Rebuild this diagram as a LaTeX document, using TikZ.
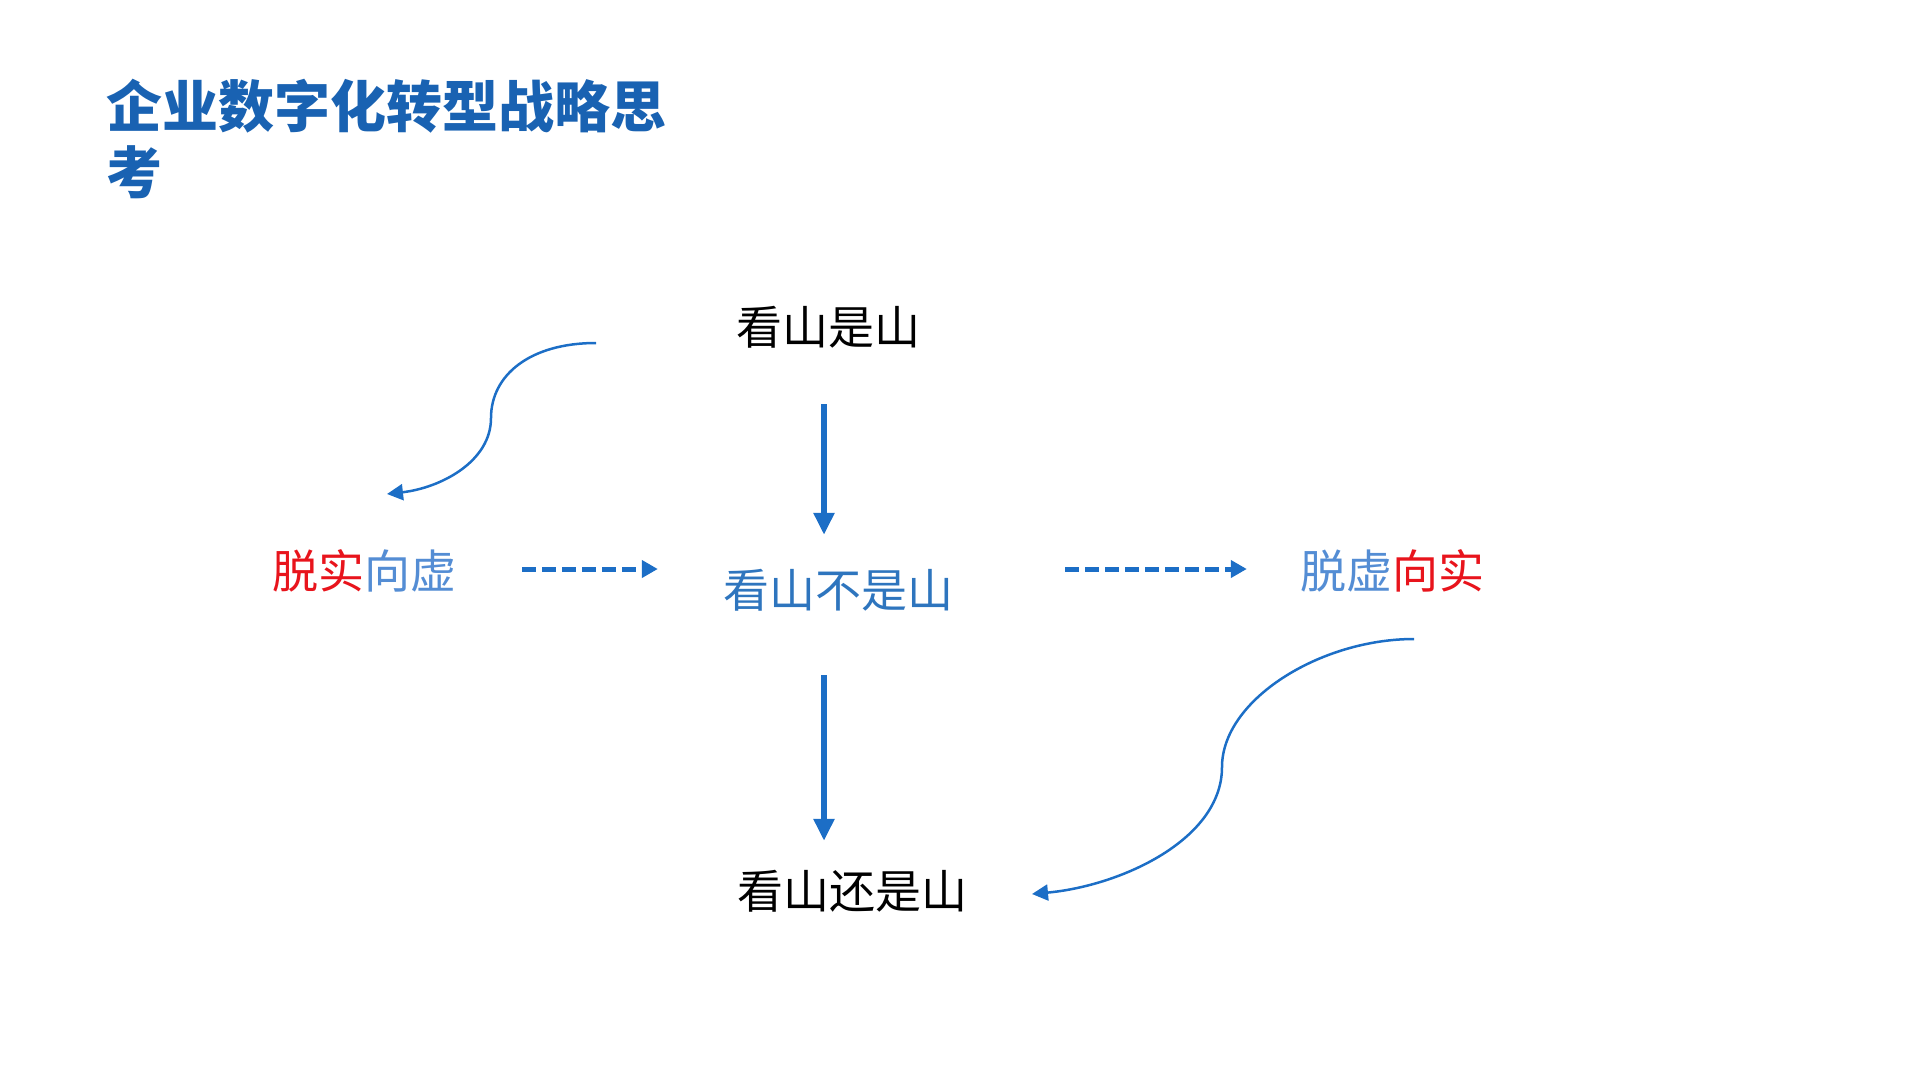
\documentclass[tikz,border=0pt]{standalone}
\usepackage{fontspec}
\newfontfamily\cjk{Noto Sans CJK SC}
\usetikzlibrary{arrows.meta}
\definecolor{titleblue}{RGB}{25,98,178}
\definecolor{arrowblue}{RGB}{28,110,198}
\definecolor{midblue}{RGB}{46,117,190}
\definecolor{lightblue}{RGB}{84,141,212}
\definecolor{cred}{RGB}{232,20,28}
\begin{document}
\begin{tikzpicture}[x=1pt, y=-1pt,
  title/.style = {font=\cjk\bfseries\fontsize{56}{66}\selectfont,
    text=titleblue, align=left, anchor=north west, inner sep=0pt},
  lbl/.style = {font=\cjk\fontsize{46}{50}\selectfont,
    inner sep=0pt, text height=37pt, text depth=9pt},
  solid arrow/.style = {arrowblue, line width=5.5pt,
    -{Triangle[length=22pt, width=20pt]}},
  dash arrow/.style = {arrowblue, line width=5pt, dash pattern=on 14pt off 6pt,
    -{Triangle[length=16pt, width=17pt]}},
  curve arrow/.style = {arrowblue, line width=2.5pt,
    -{Triangle[length=16pt, width=16pt]}}]
  \useasboundingbox (0,0) rectangle (1920,1080);
  \node[title] (head) at (106,79) {企业数字化转型战略思\\考};
  \node[lbl] (top) at (828,330) {看山是山};
  \node[lbl, text=midblue] (mid) at (838,593) {看山不是山};
  \node[lbl] (bot) at (852,894) {看山还是山};
  \node[lbl] (left) at (364,574)
    {\textcolor{cred}{脱实}\textcolor{lightblue}{向虚}};
  \node[lbl] (right) at (1392,574)
    {\textcolor{lightblue}{脱虚}\textcolor{cred}{向实}};
  \coordinate (vx) at (824,0);
  \coordinate (hy) at (0,569);
  \coordinate (s1) at (596,343);
  \coordinate (e1) at (387,494);
  \coordinate (s2) at (1414,639);
  \coordinate (e2) at (1032,894);
  % down the middle
  \draw[solid arrow, shorten <=51pt, shorten >=35pt]
    (top.south -| vx) -- (mid.north -| vx);
  \draw[solid arrow, shorten <=59pt, shorten >=30pt]
    (mid.south -| vx) -- (bot.north -| vx);
  % sideways
  \draw[dash arrow, shorten <=66pt, shorten >=65pt]
    (left.east |- hy) -- (mid.west |- hy);
  \draw[dash arrow, shorten <=112pt, shorten >=53pt]
    (mid.east |- hy) -- (right.west |- hy);
  % curves
  \draw[curve arrow] (s1) .. controls (530,343) and (491,375) .. (491,418)
    .. controls (491,462) and (440,488) .. (e1);
  \draw[curve arrow] (s2) .. controls (1320,639) and (1222,700) .. (1222,767)
    .. controls (1222,840) and (1120,886) .. (e2);
\end{tikzpicture}
\end{document}
